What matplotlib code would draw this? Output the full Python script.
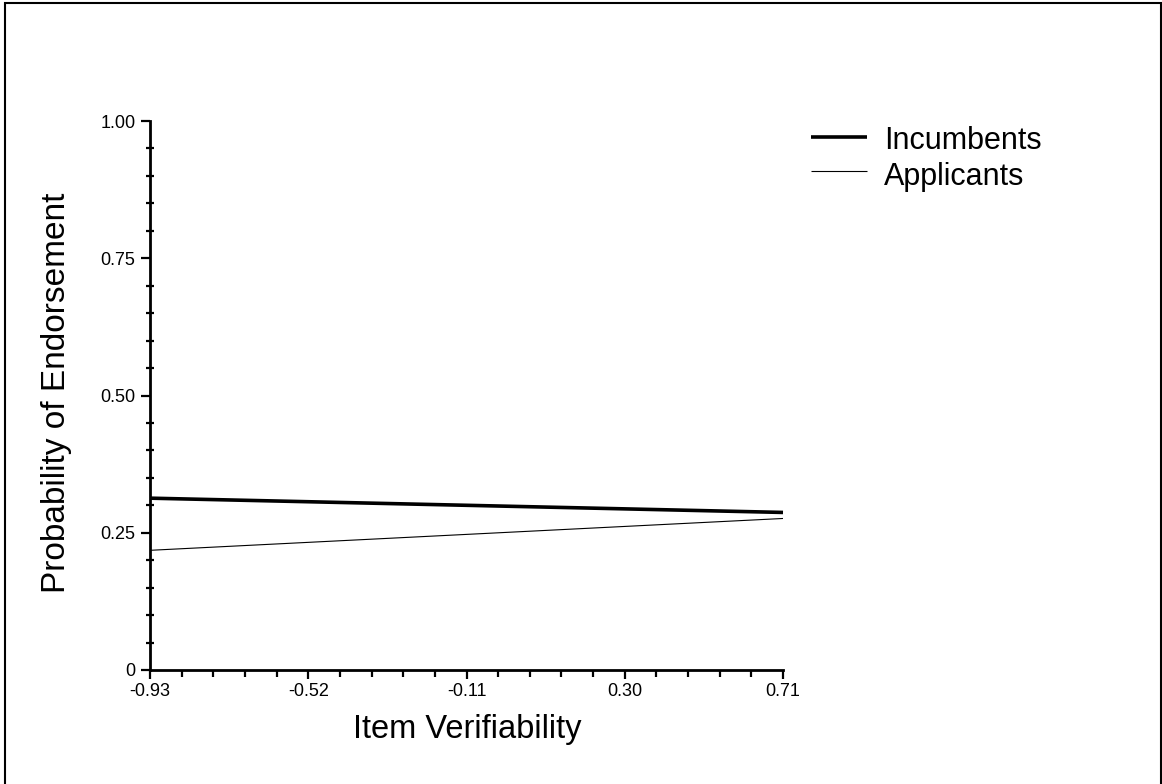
import matplotlib
matplotlib.use("Agg")
import matplotlib.pyplot as plt
from matplotlib.patches import Rectangle
from matplotlib.lines import Line2D
from matplotlib.ticker import AutoMinorLocator

plt.rcParams['font.family'] = ['Liberation Sans', 'DejaVu Sans']

# Data
x_vals = [-0.93, 0.71]
incumbents = [0.313, 0.287]
applicants = [0.218, 0.276]
x_ticks = [-0.93, -0.52, -0.11, 0.30, 0.71]
x_ticklabels = ["-0.93", "-0.52", "-0.11", "0.30", "0.71"]
y_ticks = [0, 0.25, 0.50, 0.75, 1.00]
y_ticklabels = ["0", "0.25", "0.50", "0.75", "1.00"]
series_names = ["Incumbents", "Applicants"]

W, H = 1162, 784
fig = plt.figure(figsize=(W / 100, H / 100), dpi=100)
ax = fig.add_axes([150 / W, 1 - 670 / H, (783 - 150) / W, (670 - 121) / H])

ax.plot(x_vals, incumbents, color='black', lw=2.6, solid_capstyle='butt', clip_on=False)
ax.plot(x_vals, applicants, color='black', lw=0.8, solid_capstyle='butt', clip_on=False)

ax.set_xlim(x_vals[0], x_vals[-1])
ax.set_ylim(0, 1)
ax.set_xticks(x_ticks)
ax.set_xticklabels(x_ticklabels)
ax.set_yticks(y_ticks)
ax.set_yticklabels(y_ticklabels)
ax.xaxis.set_minor_locator(AutoMinorLocator(5))
ax.yaxis.set_minor_locator(AutoMinorLocator(5))

for s in ['top', 'right']:
    ax.spines[s].set_visible(False)
for s in ['left', 'bottom']:
    ax.spines[s].set_linewidth(2.0)

ax.tick_params(axis='both', which='major', direction='out', width=1.6, length=6.5,
               labelsize=13, pad=2.5)
ax.tick_params(axis='x', which='minor', direction='out', width=1.6, length=5)
ax.tick_params(axis='y', which='minor', direction='inout', width=1.6, length=6)
ax.tick_params(axis='y', which='major', pad=4)

# Axis labels
fig.text(467 / W, 1 - 738 / H, "Item Verifiability", ha='center', va='baseline', fontsize=23.5)
fig.text(57 / W, 1 - 393 / H, "Probability of Endorsement", ha='center', va='center',
         rotation=90, fontsize=24)

# Legend (manual)
leg_y_lines = [137, 171]
leg_y_text = [149, 185]
lws = [2.6, 0.8]
for name, ly, ty, lw in zip(series_names, leg_y_lines, leg_y_text, lws):
    fig.add_artist(Line2D([811 / W, 867 / W], [1 - ly / H, 1 - ly / H], color='black', lw=lw,
                          solid_capstyle='butt'))
    fig.text(884 / W, 1 - ty / H, name, ha='left', va='baseline', fontsize=22)

# Figure border
fig.add_artist(Rectangle((5 / W, -0.01), (1161 - 5) / W, 1.01 - 3 / H, transform=fig.transFigure,
                         fill=False, edgecolor='black', lw=1.5))

fig.savefig("out.png", dpi=100, facecolor='white')
